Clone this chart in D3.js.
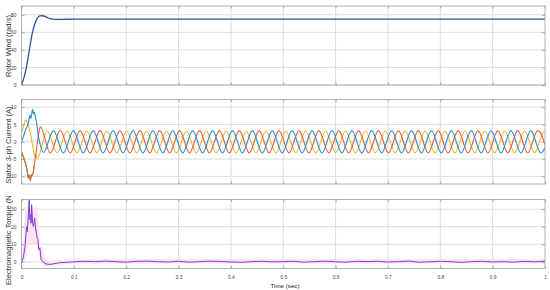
<!DOCTYPE html>
<html><head><meta charset="utf-8">
<script src="https://cdn.jsdelivr.net/npm/d3@7"></script>
<style>body{margin:0;background:#fff}svg{display:block}</style>
</head><body>
<svg id="c" width="550" height="290"></svg>
<script>
// ---------- data ----------
const xTicks = [0,0.1,0.2,0.3,0.4,0.5,0.6,0.7,0.8,0.9,1];
const xTickLabels = ["0","0.1","0.2","0.3","0.4","0.5","0.6","0.7","0.8","0.9","1"];
const speedTicks = [0,20,40,60,80];
const currentTicks = [-10,-5,0,5,10];
const torqueTicks = [0,10,20,30];

// rotor speed (t in s, value in rad/s)
const speedT = [0,0.005,0.01,0.015,0.02,0.025,0.03,0.035,0.04,0.045,0.05,0.055,0.06,0.07,0.08,0.1,0.2,0.3,0.4,0.5,0.6,0.7,0.8,0.9,1.0];
const speedV = [0,9,22,40,57,69,76,78.8,78.9,78.2,76.6,75.6,75.0,74.7,74.8,75,75,75,75,75,75,75,75,75,75];

// stator currents, [time ms, current A] at read-off turning points
const iRed = [[0,-2.9],[4,-4.5],[8,-6.5],[11,-8.5],[13,-10.5],[15,-9.6],[17,-11.2],[19,-9.5],[21,-9.8],[24,-7],[27,-4],[30,-0.5],[33,2.5],[36,4.3],
 [55,-3.3],[74,3.3],[93,-3.2],[112,3.2],[131,-3.2],[150,3.2],[169,-3.2],[188,3.2],[207,-3.2],[226,3.2],[245,-3.2],[264,3.2],[283,-3.2],[302,3.2],[321,-3.2],[340,3.2],[359,-3.2],[378,3.2],[397,-3.2],[416,3.2],[435,-3.2],[454,3.2],[473,-3.2],[492,3.2],[511,-3.2],[530,3.2],[549,-3.2],[568,3.2],[587,-3.2],[606,3.2],[625,-3.2],[644,3.2],[663,-3.2],[682,3.2],[701,-3.2],[720,3.2],[739,-3.2],[758,3.2],[777,-3.2],[796,3.2],[815,-3.2],[834,3.2],[853,-3.2],[872,3.2],[891,-3.2],[910,3.2],[929,-3.2],[948,3.2],[967,-3.2],[986,3.2],[1005,-3.2]];
const iYellow = [[0,2.4],[4,4.5],[8,6.3],[11,5.5],[14,4.2],[17,2.5],[20,0],[23,-2.5],[25.5,-4.3],[27,-3.4],[30,-4.9],
 [49,3.1],[68,-3.2],[87,3.1],[106,-3.2],[125,3.1],[144,-3.2],[163,3.1],[182,-3.2],[201,3.1],[220,-3.2],[239,3.1],[258,-3.2],[277,3.1],[296,-3.2],[315,3.1],[334,-3.2],[353,3.1],[372,-3.2],[391,3.1],[410,-3.2],[429,3.1],[448,-3.2],[467,3.1],[486,-3.2],[505,3.1],[524,-3.2],[543,3.1],[562,-3.2],[581,3.1],[600,-3.2],[619,3.1],[638,-3.2],[657,3.1],[676,-3.2],[695,3.1],[714,-3.2],[733,3.1],[752,-3.2],[771,3.1],[790,-3.2],[809,3.1],[828,-3.2],[847,3.1],[866,-3.2],[885,3.1],[904,-3.2],[923,3.1],[942,-3.2],[961,3.1],[980,-3.2],[999,3.1],[1018,-3.2]];
const iBlue = [[0,0],[3,1.2],[6.5,2.9],[10,4.2],[13,5.3],[16,7.7],[18,6.7],[21,9.4],[23,8],[24.5,8.6],[26,7.5],[29,5.3],[32,1.9],[36,-1],
 [42,-3.1],[61,3.2],[80,-3.2],[99,3.2],[118,-3.2],[137,3.2],[156,-3.2],[175,3.2],[194,-3.2],[213,3.2],[232,-3.2],[251,3.2],[270,-3.2],[289,3.2],[308,-3.2],[327,3.2],[346,-3.2],[365,3.2],[384,-3.2],[403,3.2],[422,-3.2],[441,3.2],[460,-3.2],[479,3.2],[498,-3.2],[517,3.2],[536,-3.2],[555,3.2],[574,-3.2],[593,3.2],[612,-3.2],[631,3.2],[650,-3.2],[669,3.2],[688,-3.2],[707,3.2],[726,-3.2],[745,3.2],[764,-3.2],[783,3.2],[802,-3.2],[821,3.2],[840,-3.2],[859,3.2],[878,-3.2],[897,3.2],[916,-3.2],[935,3.2],[954,-3.2],[973,3.2],[992,-3.2],[1011,3.2]];

// electromagnetic torque, [time ms, torque]
const torque = [[0,-0.5],[3,2],[6.5,8],[9.7,20],[11,17],[12.8,25],[14.7,35.4],[16,24],[17.4,27],[18.3,22],[19.3,32.5],[21.2,22],[23,20],[25,25],[27,19.3],[28.8,15.5],[30,13.5],[31.3,12.7],[33,7],[35,8],[37.6,1.3],[41,0],[47,-1.2],[54,-1.5],[60,-1.2],[73,-0.5],[85,-0.3],
 [100,0],[120,0.3],[140,0.1],[160,0.4],[180,0.1],[200,-0.2],[220,0.3],[240,0.4],[260,0.1],[280,-0.1],[300,0.3],[320,-0.2],[340,0.1],[360,0.4],[380,0.2],[400,-0.1],[420,-0.3],[440,0.1],[460,0.3],[480,0],[500,0.1],[520,0.3],[540,-0.2],[560,0.1],[580,0.4],[600,0],[620,-0.2],[640,0.3],[660,0.1],[680,0.3],[700,-0.1],[720,0.1],[740,0.4],[760,-0.2],[780,0],[800,0.3],[820,0.1],[840,-0.3],[860,0.1],[880,0.3],[900,-0.1],[920,0.1],[940,-0.2],[960,0.3],[980,0],[1000,0.4]];
// pale ripple envelope of torque
const rippleT  = [0,2,5,8,12,30,33,36,40,45,50,60,100,1000];
const rippleHi = [0.5,5,20,31,31,31,20,9,8,2,0.8,0.8,1.5,1.5];
const rippleLo = [-1,-1,0,2,10,10,6,0,-1.5,-2.5,-2.5,-2.3,-0.9,-0.9];

// ---------- drawing ----------
const svg = d3.select("#c");
const FONT = "'Liberation Sans', Arial, sans-serif";
const X0 = 21.5, X1 = 545;
const x = d3.scaleLinear().domain([0,1]).range([X0,X1]);
const xm = d3.scaleLinear().domain([0,1000]).range([X0,X1]);

function panel(id, top, bottom, dom, ticks, ylabel, labelY, labelAnchor, showX){
  const y = d3.scaleLinear().domain(dom).range([bottom, top]);
  const g = svg.append("g");
  g.append("rect").attr("x",X0).attr("y",top).attr("width",X1-X0).attr("height",bottom-top).attr("fill","#fff");
  // grid
  g.append("g").selectAll("line").data(xTicks.slice(1,-1)).join("line")
    .attr("x1",d=>x(d)).attr("x2",d=>x(d)).attr("y1",top).attr("y2",bottom)
    .attr("stroke","#d4d4d4").attr("stroke-width",0.8);
  g.append("g").selectAll("line").data(ticks).join("line")
    .attr("x1",X0).attr("x2",X1).attr("y1",d=>y(d)).attr("y2",d=>y(d))
    .attr("stroke","#d4d4d4").attr("stroke-width",0.8);
  svg.append("clipPath").attr("id",id).append("rect")
    .attr("x",X0).attr("y",top).attr("width",X1-X0).attr("height",bottom-top);
  const data = g.append("g").attr("clip-path",`url(#${id})`);
  const axes = g.append("g");
  // border
  axes.append("rect").attr("x",X0).attr("y",top).attr("width",X1-X0).attr("height",bottom-top)
    .attr("fill","none").attr("stroke","#a8a8a8").attr("stroke-width",0.9);
  const style = s => { s.select(".domain").remove(); s.selectAll(".tick line").attr("stroke","#8a8a8a").attr("stroke-width",0.7);
    s.selectAll("text").attr("font-family",FONT).attr("font-size","4.9px").attr("fill","#444"); };
  axes.append("g").attr("transform",`translate(${X0},0)`)
    .call(d3.axisLeft(y).tickValues(ticks).tickFormat(d=>String(d)).tickSize(-3).tickPadding(5)).call(style);
  axes.append("g").attr("transform",`translate(${X1},0)`)
    .call(d3.axisRight(y).tickValues(ticks).tickFormat("").tickSize(-3)).call(style);
  axes.append("g").attr("transform",`translate(0,${top})`)
    .call(d3.axisTop(x).tickValues(xTicks).tickFormat("").tickSize(-2.5)).call(style);
  axes.append("g").attr("transform",`translate(0,${bottom})`)
    .call(d3.axisBottom(x).tickValues(xTicks).tickFormat((d,i)=>showX?xTickLabels[i]:"").tickSize(-2.5).tickPadding(7.5)).call(style);
  svg.append("text").attr("transform",`translate(10.6,${labelY}) rotate(-90)`)
    .attr("text-anchor",labelAnchor).attr("font-family",FONT).attr("font-size","7.6px").attr("fill","#333")
    .text(ylabel);
  return {y, data};
}

// Panel 1: rotor speed
const p1 = panel("c1", 6, 85, [0,90], speedTicks, "Rotor Wind (rad/s)", 46, "middle", false);
p1.data.append("path")
  .datum(speedT.map((t,i)=>[t,speedV[i]]))
  .attr("fill","none").attr("stroke","#2d50a5").attr("stroke-width",1.3)
  .attr("d", d3.line().x(d=>x(d[0])).y(d=>p1.y(d[1])).curve(d3.curveMonotoneX));

// Panel 2: stator currents
const p2 = panel("c2", 99.5, 184, [-12.2,12.2], currentTicks, "Stator 3-ph Current (A)", 145, "middle", false);
const cl = d3.line().x(d=>xm(d[0])).y(d=>p2.y(d[1])).curve(d3.curveMonotoneX);
p2.data.append("path").datum(iYellow).attr("fill","none").attr("stroke","#efb52e").attr("stroke-width",1.1).attr("d",cl);
p2.data.append("path").datum(iRed).attr("fill","none").attr("stroke","#e5603a").attr("stroke-width",1.1).attr("d",cl);
p2.data.append("path").datum(iRed.filter(d=>d[0]<=24)).attr("fill","none").attr("stroke","#aa8238").attr("stroke-width",1.1).attr("d",cl);
p2.data.append("path").datum(iBlue).attr("fill","none").attr("stroke","#2d8fd5").attr("stroke-width",1.1).attr("d",cl);

// Panel 3: torque
const p3 = panel("c3", 199.5, 268.5, [-3.8,35.5], torqueTicks, "Electromagnetic Torque (N", 285, "start", true);
p3.data.append("path")
  .datum(rippleT.map((t,i)=>[t,rippleLo[i],rippleHi[i]]))
  .attr("fill","#fbe1f1").attr("stroke","none")
  .attr("d", d3.area().x(d=>xm(d[0])).y0(d=>p3.y(d[1])).y1(d=>p3.y(d[2])));
p3.data.append("path").datum(torque)
  .attr("fill","none").attr("stroke","#7a42d2").attr("stroke-width",1)
  .attr("d", d3.line().x(d=>xm(d[0])).y(d=>p3.y(d[1])));

// x label
svg.append("text").attr("x",285).attr("y",288).attr("text-anchor","middle")
  .attr("font-family",FONT).attr("font-size","6.2px").attr("fill","#222").text("Time (sec)");
</script>
</body></html>
